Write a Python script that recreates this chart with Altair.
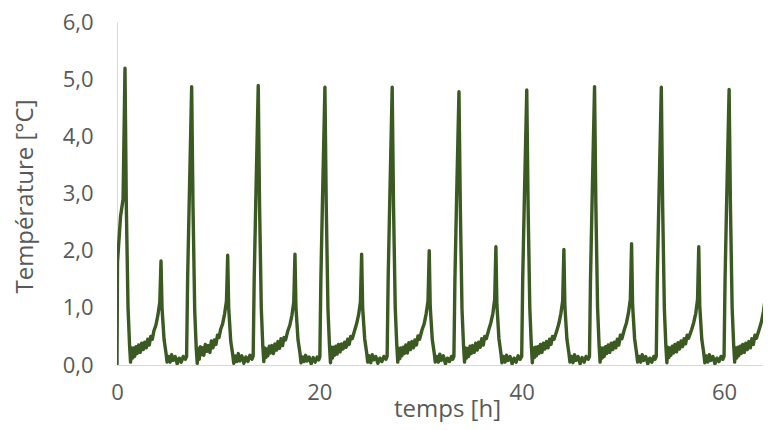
import altair as alt
import pandas as pd

# ---- measured data (hours, °C) ----
hours_c0 = [0.0, 0.05, 0.35, 0.6, 0.79, 0.92, 1.09, 1.24, 1.34, 1.44, 1.54, 1.64, 1.74, 1.89, 1.99, 2.14, 2.29, 2.44, 2.59, 2.74, 2.89, 3.04, 3.19, 3.34, 3.49, 3.65, 3.85, 4.05, 4.23, 4.35, 4.45, 4.65, 4.85, 4.95, 5.10, 5.25, 5.40, 5.55, 5.75, 5.95, 6.15, 6.35, 6.55, 6.75, 6.88, 6.98, 7.13]
temp_c0 = [0.0, 1.8, 2.6, 2.9, 5.19, 2.8, 1.0, 0.35, 0.05, 0.3, 0.12, 0.3, 0.15, 0.32, 0.2, 0.35, 0.22, 0.38, 0.27, 0.4, 0.3, 0.45, 0.35, 0.5, 0.45, 0.6, 0.7, 0.88, 1.1, 1.82, 1.0, 0.45, 0.2, 0.05, 0.15, 0.05, 0.18, 0.08, 0.15, 0.02, 0.12, 0.05, 0.15, 0.1, 0.15, 1.5, 2.8]

hours_c1 = [7.38, 7.51, 7.68, 7.83, 7.93, 8.03, 8.13, 8.23, 8.33, 8.48, 8.58, 8.73, 8.88, 9.03, 9.18, 9.33, 9.48, 9.63, 9.78, 9.93, 10.08, 10.24, 10.44, 10.64, 10.82, 10.94, 11.04, 11.24, 11.44, 11.54, 11.69, 11.84, 11.99, 12.14, 12.34, 12.54, 12.74, 12.94, 13.14, 13.34, 13.46, 13.56, 13.71]
temp_c1 = [4.87, 2.8, 0.95, 0.3, 0.03, 0.28, 0.1, 0.32, 0.18, 0.3, 0.17, 0.36, 0.24, 0.34, 0.22, 0.42, 0.3, 0.44, 0.36, 0.52, 0.48, 0.62, 0.72, 0.9, 1.12, 1.92, 1.0, 0.42, 0.18, 0.03, 0.16, 0.06, 0.2, 0.07, 0.16, 0.03, 0.14, 0.06, 0.17, 0.1, 0.16, 1.5, 2.8]

hours_c2 = [13.96, 14.09, 14.26, 14.41, 14.51, 14.61, 14.71, 14.81, 14.91, 15.06, 15.16, 15.31, 15.46, 15.61, 15.76, 15.91, 16.06, 16.21, 16.36, 16.51, 16.66, 16.89, 17.09, 17.29, 17.47, 17.59, 17.69, 17.89, 18.09, 18.19, 18.34, 18.49, 18.64, 18.79, 18.99, 19.19, 19.39, 19.59, 19.79, 19.95, 20.05, 20.15, 20.30]
temp_c2 = [4.89, 2.8, 1.0, 0.33, 0.06, 0.3, 0.13, 0.28, 0.16, 0.33, 0.21, 0.34, 0.2, 0.37, 0.26, 0.41, 0.29, 0.46, 0.34, 0.48, 0.44, 0.6, 0.7, 0.87, 1.1, 1.94, 1.0, 0.44, 0.2, 0.04, 0.14, 0.06, 0.17, 0.07, 0.14, 0.02, 0.13, 0.05, 0.14, 0.09, 0.15, 1.5, 2.8]

hours_c3 = [20.55, 20.68, 20.85, 21.00, 21.10, 21.20, 21.30, 21.40, 21.50, 21.65, 21.75, 21.90, 22.05, 22.20, 22.35, 22.50, 22.65, 22.80, 22.95, 23.10, 23.25, 23.48, 23.68, 23.88, 24.06, 24.18, 24.28, 24.48, 24.68, 24.78, 24.93, 25.08, 25.23, 25.38, 25.58, 25.78, 25.98, 26.18, 26.38, 26.58, 26.70, 26.80, 26.95]
temp_c3 = [4.86, 2.8, 0.98, 0.34, 0.04, 0.31, 0.12, 0.31, 0.17, 0.33, 0.19, 0.36, 0.23, 0.37, 0.28, 0.4, 0.31, 0.45, 0.36, 0.5, 0.46, 0.6, 0.72, 0.88, 1.1, 1.94, 1.0, 0.46, 0.21, 0.05, 0.16, 0.04, 0.18, 0.09, 0.15, 0.03, 0.12, 0.06, 0.15, 0.1, 0.15, 1.5, 2.8]

hours_c4 = [27.20, 27.33, 27.50, 27.65, 27.75, 27.85, 27.95, 28.05, 28.15, 28.30, 28.40, 28.55, 28.70, 28.85, 29.00, 29.15, 29.30, 29.45, 29.60, 29.75, 29.90, 30.16, 30.36, 30.56, 30.74, 30.86, 30.96, 31.16, 31.36, 31.46, 31.61, 31.76, 31.91, 32.06, 32.26, 32.46, 32.66, 32.86, 33.06, 33.18, 33.30, 33.40, 33.55]
temp_c4 = [4.86, 2.8, 1.0, 0.36, 0.05, 0.29, 0.11, 0.3, 0.16, 0.31, 0.2, 0.35, 0.21, 0.39, 0.27, 0.41, 0.3, 0.44, 0.35, 0.51, 0.45, 0.62, 0.72, 0.9, 1.12, 2.0, 1.02, 0.45, 0.2, 0.05, 0.15, 0.05, 0.19, 0.08, 0.16, 0.02, 0.12, 0.06, 0.15, 0.1, 0.15, 1.5, 2.8]

hours_c5 = [33.80, 33.93, 34.10, 34.25, 34.35, 34.45, 34.55, 34.65, 34.75, 34.90, 35.00, 35.15, 35.30, 35.45, 35.60, 35.75, 35.90, 36.05, 36.20, 36.35, 36.50, 36.75, 36.95, 37.15, 37.33, 37.45, 37.55, 37.75, 37.95, 38.05, 38.20, 38.35, 38.50, 38.65, 38.85, 39.05, 39.25, 39.45, 39.65, 39.85, 40.00, 40.10, 40.25]
temp_c5 = [4.78, 2.8, 0.97, 0.34, 0.05, 0.3, 0.12, 0.29, 0.15, 0.33, 0.2, 0.34, 0.22, 0.38, 0.26, 0.4, 0.31, 0.46, 0.35, 0.5, 0.46, 0.62, 0.74, 0.9, 1.15, 2.07, 1.05, 0.46, 0.2, 0.04, 0.15, 0.05, 0.17, 0.08, 0.15, 0.02, 0.12, 0.05, 0.16, 0.1, 0.15, 1.5, 2.8]

hours_c6 = [40.50, 40.63, 40.80, 40.95, 41.05, 41.15, 41.25, 41.35, 41.45, 41.60, 41.70, 41.85, 42.00, 42.15, 42.30, 42.45, 42.60, 42.75, 42.90, 43.05, 43.20, 43.47, 43.67, 43.87, 44.05, 44.17, 44.27, 44.47, 44.67, 44.77, 44.92, 45.07, 45.22, 45.37, 45.57, 45.77, 45.97, 46.17, 46.37, 46.57, 46.70, 46.80, 46.95]
temp_c6 = [4.81, 2.8, 1.0, 0.35, 0.04, 0.3, 0.13, 0.31, 0.16, 0.32, 0.2, 0.36, 0.22, 0.38, 0.28, 0.41, 0.3, 0.45, 0.36, 0.5, 0.45, 0.6, 0.72, 0.9, 1.12, 2.02, 1.02, 0.45, 0.2, 0.05, 0.15, 0.04, 0.18, 0.08, 0.15, 0.02, 0.13, 0.05, 0.15, 0.1, 0.15, 1.5, 2.8]

hours_c7 = [47.20, 47.33, 47.50, 47.65, 47.75, 47.85, 47.95, 48.05, 48.15, 48.30, 48.40, 48.55, 48.70, 48.85, 49.00, 49.15, 49.30, 49.45, 49.60, 49.75, 49.90, 50.16, 50.36, 50.56, 50.74, 50.86, 50.96, 51.16, 51.36, 51.46, 51.61, 51.76, 51.91, 52.06, 52.26, 52.46, 52.66, 52.86, 53.06, 53.18, 53.30, 53.40, 53.55]
temp_c7 = [4.87, 2.8, 1.0, 0.34, 0.05, 0.3, 0.12, 0.3, 0.15, 0.32, 0.2, 0.35, 0.22, 0.38, 0.27, 0.4, 0.3, 0.45, 0.35, 0.52, 0.46, 0.63, 0.74, 0.92, 1.15, 2.12, 1.05, 0.46, 0.2, 0.05, 0.15, 0.05, 0.18, 0.08, 0.15, 0.02, 0.12, 0.05, 0.15, 0.1, 0.15, 1.5, 2.8]

hours_c8 = [53.80, 53.93, 54.10, 54.25, 54.35, 54.45, 54.55, 54.65, 54.75, 54.90, 55.00, 55.15, 55.30, 55.45, 55.60, 55.75, 55.90, 56.05, 56.20, 56.35, 56.50, 56.80, 57.00, 57.20, 57.38, 57.50, 57.60, 57.80, 58.00, 58.10, 58.25, 58.40, 58.55, 58.70, 58.90, 59.10, 59.30, 59.50, 59.70, 59.88, 60.00, 60.10, 60.25]
temp_c8 = [4.86, 2.8, 0.98, 0.33, 0.04, 0.31, 0.13, 0.3, 0.17, 0.33, 0.21, 0.36, 0.23, 0.39, 0.28, 0.42, 0.32, 0.46, 0.37, 0.52, 0.47, 0.62, 0.74, 0.9, 1.14, 2.07, 1.03, 0.45, 0.2, 0.04, 0.16, 0.05, 0.18, 0.08, 0.15, 0.02, 0.12, 0.06, 0.15, 0.1, 0.15, 1.5, 2.8]

hours_c9 = [60.50, 60.63, 60.80, 60.95, 61.05, 61.15, 61.25, 61.35, 61.45, 61.60, 61.70, 61.85, 62.00, 62.15, 62.30, 62.45, 62.60, 62.75, 62.90, 63.05, 63.20, 63.50, 63.70, 63.90, 64.08, 64.20, 64.30, 64.50, 64.70]
temp_c9 = [4.82, 2.8, 1.0, 0.35, 0.05, 0.3, 0.12, 0.31, 0.16, 0.33, 0.2, 0.36, 0.22, 0.38, 0.27, 0.41, 0.3, 0.46, 0.36, 0.52, 0.47, 0.64, 0.76, 0.94, 1.18, 2.17, 1.05, 0.45, 0.2]

x_ticks = [0, 20, 40, 60]
y_ticks = [0, 1, 2, 3, 4, 5, 6]
x_title = "temps [h]"
y_title = "Température [°C]"

hours_all = [hours_c0, hours_c1, hours_c2, hours_c3, hours_c4, hours_c5, hours_c6, hours_c7, hours_c8, hours_c9]
temps_all = [temp_c0, temp_c1, temp_c2, temp_c3, temp_c4, temp_c5, temp_c6, temp_c7, temp_c8, temp_c9]
rows = []
for hs, ts in zip(hours_all, temps_all, strict=True):
    for h, v in zip(hs, ts, strict=True):
        rows.append({"t": h, "T": v})
df = pd.DataFrame(rows)

GRAY = "#595959"
FONT = "Open Sans"

x_axis = alt.Axis(
    values=x_ticks, title=x_title, grid=False, ticks=False,
    domainColor="#d9d9d9", domainWidth=1,
    labelFont=FONT, labelFontSize=22, labelColor=GRAY, labelPadding=17,
    labelFlush=False,
    titleFont=FONT, titleFontSize=24, titleFontWeight="normal", titleColor=GRAY,
    titleX=330, titleY=51, titleBaseline="alphabetic", titleAlign="center",
)
y_axis = alt.Axis(
    values=y_ticks, title=y_title, grid=False, ticks=False,
    domainColor="#d9d9d9", domainWidth=1,
    labelExpr="replace(format(datum.value, '.1f'), '.', ',')",
    labelFont=FONT, labelFontSize=22, labelColor=GRAY, labelPadding=24,
    titleFont=FONT, titleFontSize=24, titleFontWeight="normal", titleColor=GRAY,
    titleX=-85, titleY=174, titleAngle=270, titleBaseline="alphabetic", titleAlign="center",
)

chart = (
    alt.Chart(df)
    .mark_line(color="#3b5a22", strokeWidth=3.4, clip=True, strokeJoin="round")
    .encode(
        x=alt.X("t:Q", scale=alt.Scale(domain=[0, 63.85], nice=False, zero=False), axis=x_axis),
        y=alt.Y("T:Q", scale=alt.Scale(domain=[0, 6], nice=False), axis=y_axis),
    )
    .properties(
        width=646, height=343,
        autosize=alt.AutoSizeParams(type="none"),
        padding={"left": 109, "top": 14, "right": 0, "bottom": 57},
        background="white",
    )
    .configure_view(stroke=None)
)

chart.save("out.html", embed_options={"renderer": "svg", "actions": False})
